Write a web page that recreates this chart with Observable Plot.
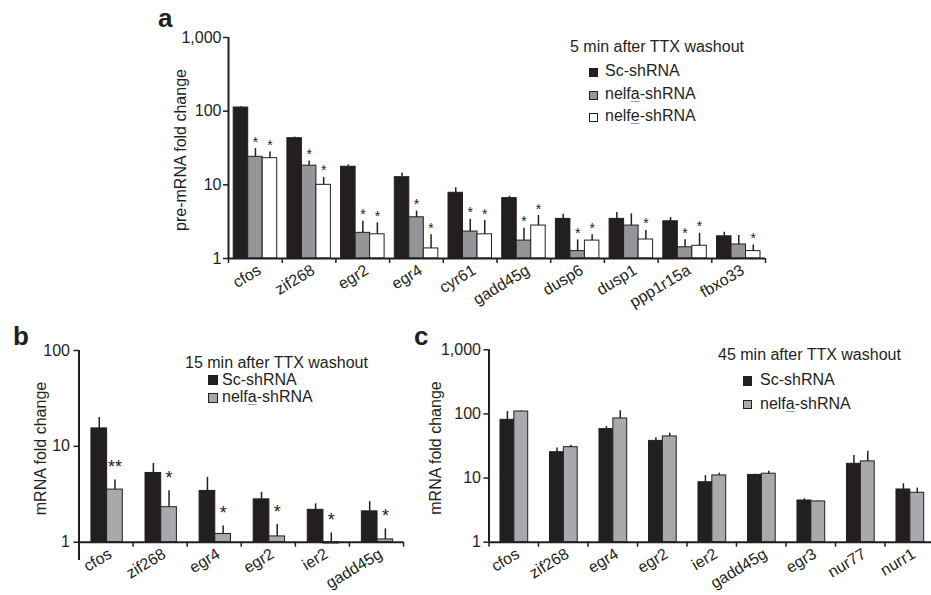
<!DOCTYPE html>
<html><head><meta charset="utf-8">
<script src="https://cdn.jsdelivr.net/npm/d3@7"></script>
<script src="https://cdn.jsdelivr.net/npm/@observablehq/plot@0.6"></script>
<style>
body{margin:0;background:#fff;}
#wrap{position:relative;width:931px;height:595px;overflow:hidden;font-family:"Liberation Sans",Arial,sans-serif;color:#231f20;}
.p{position:absolute;}
.t{position:absolute;white-space:nowrap;line-height:0;font-size:16px;}
.sq{position:absolute;border:1px solid #231f20;box-sizing:border-box;}
.lbl{position:absolute;font-weight:bold;font-size:26px;line-height:0;white-space:nowrap;}
u{text-decoration-color:#9a9a9a;text-underline-offset:2px;}
</style></head><body><div id="wrap"></div>
<script>
// ---------- Panel a: 5 min after TTX washout (pre-mRNA) ----------
const aGenes = ["cfos","zif268","egr2","egr4","cyr61","gadd45g","dusp6","dusp1","ppp1r15a","fbxo33"];
const aSc      = [112, 43, 17.6, 12.7, 7.8, 6.6, 3.45, 3.45, 3.2, 2.0];
const aScErr   = [115, 44.5, 18.6, 14.5, 9.1, 7.0, 4.0, 4.2, 3.6, 2.27];
const aNelfa    = [24, 18.2, 2.23, 3.63, 2.32, 1.75, 1.26, 2.8, 1.42, 1.55];
const aNelfaErr = [31, 21, 3.2, 4.4, 3.4, 2.58, 1.79, 4.03, 1.79, 2.05];
const aNelfaSig = ["*","*","*","*","*","*","*","","*",""];
const aNelfe    = [23, 10, 2.13, 1.37, 2.13, 2.8, 1.75, 1.81, 1.49, 1.26];
const aNelfeErr = [28, 12.6, 3.05, 2.1, 3.27, 3.83, 2.1, 2.4, 2.2, 1.53];
const aNelfeSig = ["*","*","*","*","*","*","*","*","*","*"];
const aTicks = [1, 10, 100, 1000];

// ---------- Panel b: 15 min after TTX washout (mRNA) ----------
const bGenes = ["cfos","zif268","egr4","egr2","ier2","gadd45g"];
const bSc       = [15.4, 5.28, 3.43, 2.8, 2.18, 2.1];
const bScErr    = [20, 6.65, 4.75, 3.32, 2.51, 2.65];
const bNelfa    = [3.54, 2.32, 1.22, 1.15, 0.97, 1.07];
const bNelfaErr = [4.47, 3.45, 1.48, 1.53, 1.25, 1.38];
const bNelfaSig = ["**","*","*","*","*","*"];
const bTicks = [1, 10, 100];

// ---------- Panel c: 45 min after TTX washout (mRNA) ----------
const cGenes = ["cfos","zif268","egr4","egr2","ier2","gadd45g","egr3","nur77","nurr1"];
const cSc       = [81, 25.3, 58, 38, 8.6, 11.2, 4.47, 16.7, 6.64];
const cScErr    = [109, 29.3, 63.8, 42.5, 10.9, 11.5, 4.75, 22.5, 8.15];
const cNelfa    = [109, 30.3, 85, 44.6, 11, 11.7, 4.32, 18.2, 5.9];
const cNelfaErr = [111, 32.2, 112, 50, 11.9, 12.8, 4.4, 26.3, 6.97];
const cTicks = [1, 10, 100, 1000];

const INK = "#231f20";
const wrap = document.getElementById("wrap");

function panel(o) {
  const n = o.genes.length;
  const rows = [];
  o.series.forEach((s, j) => s.values.forEach((v, i) =>
    rows.push({gene: o.genes[i], i, j, v, e: s.err[i], sig: s.sig ? s.sig[i] : "", fill: s.fill})));
  const x1 = d => d.i + o.pad + d.j * o.w;
  const x2 = d => d.i + o.pad + (d.j + 1) * o.w;
  const xc = d => d.i + o.pad + (d.j + 0.5) * o.w;
  const svg = Plot.plot({
    width: o.width, height: o.height,
    marginLeft: o.xRange[0], marginRight: 0, marginTop: o.marginTop, marginBottom: o.marginBottom,
    x: {type: "linear", domain: [0, n], range: o.xRange, axis: null},
    y: {type: "log", domain: o.yDomain, axis: null},
    color: {type: "identity"},
    style: {fontFamily: '"Liberation Sans", Arial, sans-serif', fontSize: "16px", color: INK, background: "transparent", overflow: "visible"},
    marks: [
      Plot.rect(rows, {x1, x2, y1: 1, y2: "v", fill: "fill", stroke: INK, strokeWidth: 1}),
      Plot.ruleX(rows, {x: xc, y1: "v", y2: "e", stroke: INK, strokeWidth: 1.5}),
      Plot.text(rows.filter(d => d.sig), {x: xc, y: "e", text: "sig", lineAnchor: "bottom", dy: o.starDy, fontSize: o.starSize, fill: INK}),
      Plot.ruleX([0], {stroke: INK, strokeWidth: 2}),
      Plot.ruleY([1], {x1: 0, x2: n, stroke: INK, strokeWidth: 2}),
      Plot.ruleX(d3.range(n + 1), {x: d => d, y1: 1, y2: 1, insetBottom: -5, stroke: INK, strokeWidth: 1.5}),
      Plot.axisY({ticks: o.yTicks, tickFormat: d3.format(","), tickSize: 5, tickPadding: o.tickPadding, fontSize: 16, label: null, stroke: INK, strokeWidth: 1.5}),
      Plot.text(o.genes, {x: (d, i) => i + 0.5, y: 1, text: d => d, rotate: -31, textAnchor: "end", lineAnchor: "top", dx: o.labDx, dy: 5, fontSize: 16, fill: INK}),
      Plot.text([o.yLabel], {frameAnchor: "left", textAnchor: "middle", lineAnchor: "middle", dx: o.labelDx, dy: o.labelDy, rotate: -90, text: d => d, fontSize: 16, fill: INK})
    ]
  });
  svg.classList.add("p");
  svg.style.left = o.left + "px";
  svg.style.top = o.top + "px";
  wrap.appendChild(svg);
}

function txt(html, left, baseline, fs = 16) {
  const d = document.createElement("div");
  d.className = "t";
  d.style.fontSize = fs + "px";
  d.style.left = left + "px";
  d.style.top = (baseline - 0.3465 * fs) + "px";
  d.innerHTML = html;
  wrap.appendChild(d);
}
function lbl(s, left, baseline) {
  const d = document.createElement("div");
  d.className = "lbl";
  d.style.left = left + "px";
  d.style.top = (baseline - 0.3465 * 26) + "px";
  d.textContent = s;
  wrap.appendChild(d);
}
function sq(left, top, size, fill) {
  const d = document.createElement("div");
  d.className = "sq";
  Object.assign(d.style, {left: left + "px", top: top + "px", width: size + "px", height: size + "px", background: fill});
  wrap.appendChild(d);
}

const BLACK = "#231f20", GRAY_A = "#939598", GRAY_B = "#a7a9ac", WHITE = "#ffffff";

panel({
  genes: aGenes,
  series: [
    {values: aSc, err: aScErr, fill: BLACK},
    {values: aNelfa, err: aNelfaErr, sig: aNelfaSig, fill: GRAY_A},
    {values: aNelfe, err: aNelfeErr, sig: aNelfeSig, fill: WHITE}
  ],
  pad: 0.097, w: 0.27, yDomain: [1, 1000], yTicks: aTicks,
  left: 0, top: 0, width: 800, height: 300, xRange: [228, 765], marginTop: 37, marginBottom: 42,
  tickPadding: 2, starSize: 14, starDy: -2, labDx: 1,
  yLabel: "pre-mRNA fold change", labelDx: -48, labelDy: 2
});

panel({
  genes: bGenes,
  series: [
    {values: bSc, err: bScErr, fill: BLACK},
    {values: bNelfa, err: bNelfaErr, sig: bNelfaSig, fill: GRAY_B}
  ],
  pad: 0.23, w: 0.29, yDomain: [0.645, 100], yTicks: bTicks,
  left: 0, top: 300, width: 400, height: 295, xRange: [78.5, 403], marginTop: 50, marginBottom: 35,
  tickPadding: 4, starSize: 18, starDy: -7, labDx: 1,
  yLabel: "mRNA fold change", labelDx: -38.5, labelDy: -7
});

panel({
  genes: cGenes,
  series: [
    {values: cSc, err: cScErr, fill: BLACK},
    {values: cNelfa, err: cNelfaErr, fill: GRAY_B}
  ],
  pad: 0.232, w: 0.28, yDomain: [1, 1000], yTicks: cTicks,
  left: 380, top: 300, width: 551, height: 295, xRange: [108.5, 554], marginTop: 49.3, marginBottom: 53.3,
  tickPadding: 3, starSize: 14, starDy: -2, labDx: 1,
  yLabel: "mRNA fold change", labelDx: -53, labelDy: 2
});

// panel letters
lbl("a", 158, 27);
lbl("b", 13, 345);
lbl("c", 414, 345);

// legends
txt("5 min after TTX washout", 570, 52.7);
sq(589, 68, 9, BLACK);  txt("Sc-shRNA", 605, 76.7);
sq(589, 90.5, 9, GRAY_A); txt("nelf<u>a</u>-shRNA", 605, 99.3);
sq(589, 113, 9, WHITE); txt("nelf<u>e</u>-shRNA", 605, 121.7);

txt("15 min after TTX washout", 185, 369);
sq(207.5, 375, 10, BLACK);  txt("Sc-shRNA", 222, 385.3);
sq(207.5, 393, 10, GRAY_B); txt("nelf<u>a</u>-shRNA", 222, 403);

txt("45 min after TTX washout", 718, 360.7);
sq(742.7, 376.2, 9.5, BLACK);  txt("Sc-shRNA", 760, 385.7);
sq(742.7, 399.6, 9.5, GRAY_B); txt("nelf<u>a</u>-shRNA", 760, 409.3);
</script></body></html>
